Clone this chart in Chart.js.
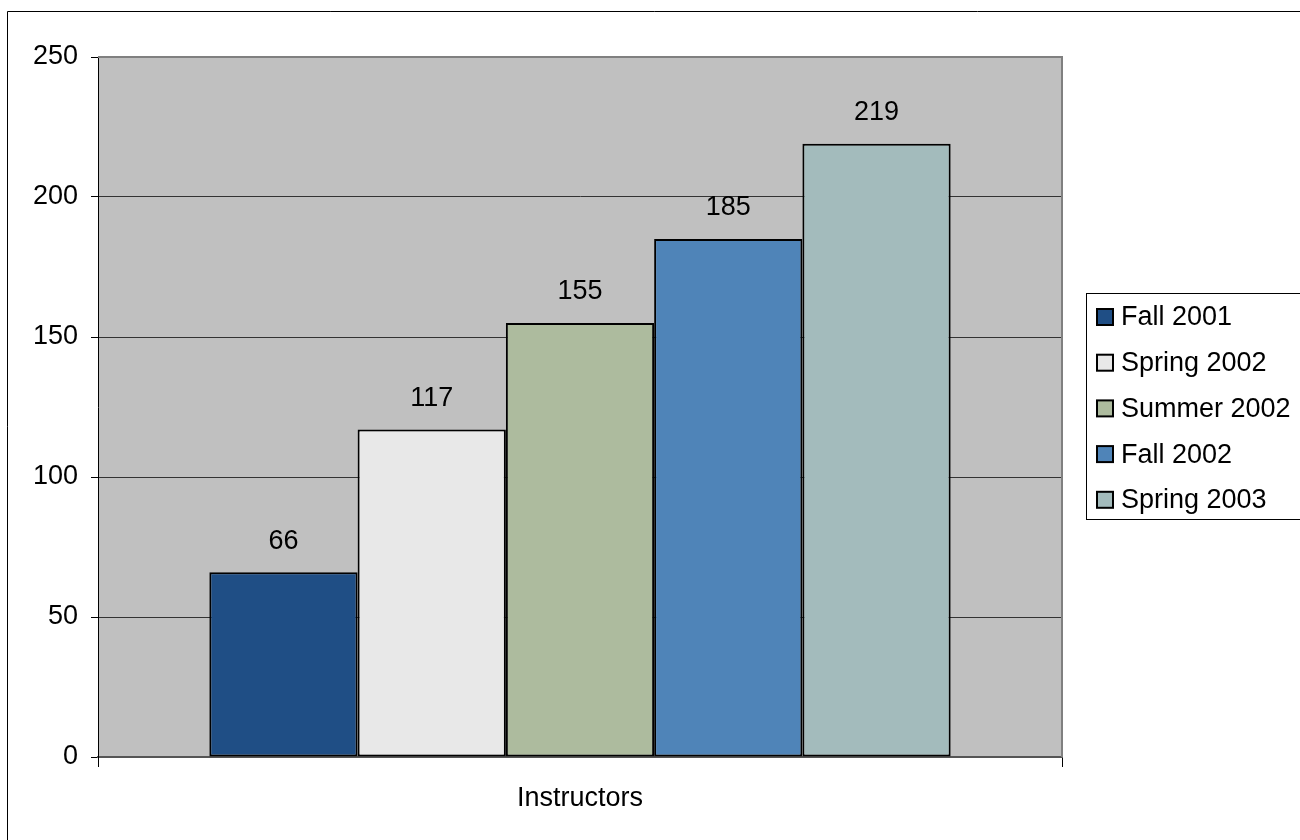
<!DOCTYPE html>
<html>
<head>
<meta charset="utf-8">
<script src="https://cdn.jsdelivr.net/npm/chart.js@4/dist/chart.umd.min.js"></script>
<style>
  html, body { margin: 0; padding: 0; background: #fff; }
  #wrap { width: 1300px; height: 840px; }
</style>
</head>
<body>
<div id="wrap"><canvas id="chart" width="1300" height="840"></canvas></div>
<script>
const categories = ["Instructors"];
const seriesNames = ["Fall 2001", "Spring 2002", "Summer 2002", "Fall 2002", "Spring 2003"];
const seriesValues = [66, 117, 155, 185, 219];
const seriesColors = ["#1F4E85", "#E8E8E8", "#ADBB9E", "#4F84B8", "#A3BBBC"];
const yTicks = [0, 50, 100, 150, 200, 250];

const FONT = "'Liberation Sans', Arial, sans-serif";
const FONT_SIZE = 27;

// gray plot background, outer frame
const frame = {
  id: "frame",
  beforeDraw(chart) {
    const { ctx, chartArea: a } = chart;
    ctx.save();
    ctx.fillStyle = "#fff";
    ctx.fillRect(0, 0, chart.width, chart.height);
    ctx.strokeStyle = "#000";
    ctx.lineWidth = 1;
    ctx.beginPath();
    ctx.moveTo(7.5, chart.height + 2);
    ctx.lineTo(7.5, 11.5);
    ctx.lineTo(chart.width + 2, 11.5);
    ctx.stroke();
    ctx.fillStyle = "#C0C0C0";
    ctx.fillRect(a.left, a.top, a.right - a.left, a.bottom - a.top);
    ctx.restore();
  },
  afterDraw(chart) {
    const { ctx, chartArea: a } = chart;
    ctx.save();
    ctx.strokeStyle = "#808080";
    ctx.lineWidth = 2;
    ctx.beginPath();
    ctx.moveTo(a.left, a.top);
    ctx.lineTo(a.right, a.top);
    ctx.lineTo(a.right, a.bottom);
    ctx.stroke();
    ctx.restore();
  }
};

// value labels above the bars
const valueLabels = {
  id: "valueLabels",
  afterDatasetsDraw(chart) {
    const { ctx } = chart;
    ctx.save();
    ctx.font = FONT_SIZE + "px " + FONT;
    ctx.fillStyle = "#000";
    ctx.textAlign = "center";
    ctx.textBaseline = "middle";
    chart.data.datasets.forEach((ds, i) => {
      const bar = chart.getDatasetMeta(i).data[0];
      ctx.fillText(String(ds.data[0]), bar.x, bar.y - 31);
    });
    ctx.restore();
  }
};

// framed legend on the right
const boxLegend = {
  id: "boxLegend",
  afterDraw(chart) {
    const { ctx } = chart;
    const left = 1086, top = 293, bottom = 519;
    ctx.save();
    ctx.strokeStyle = "#000";
    ctx.lineWidth = 1;
    ctx.strokeRect(left + 0.5, top + 0.5, chart.width, bottom - top);
    ctx.font = FONT_SIZE + "px " + FONT;
    ctx.textBaseline = "middle";
    ctx.textAlign = "left";
    chart.data.datasets.forEach((ds, i) => {
      const cy = 317 + i * 45.7;
      ctx.fillStyle = ds.backgroundColor;
      ctx.fillRect(1097, cy - 8, 16, 16);
      ctx.lineWidth = 2;
      ctx.strokeRect(1097, cy - 8, 16, 16);
      ctx.fillStyle = "#000";
      ctx.fillText(ds.label, 1121, cy + 1);
    });
    ctx.restore();
  }
};

const config = {
  type: "bar",
  data: {
    labels: categories,
    datasets: seriesNames.map((name, i) => ({
      label: name,
      data: [seriesValues[i]],
      backgroundColor: seriesColors[i],
      borderColor: "#000",
      borderWidth: 2,
      borderSkipped: false,
      categoryPercentage: 0.769,
      barPercentage: 1.0
    }))
  },
  options: {
    responsive: false,
    animation: false,
    layout: { padding: { left: 0, top: 57, right: 238, bottom: 0 } },
    plugins: {
      legend: { display: false },
      tooltip: { enabled: false }
    },
    scales: {
      x: {
        offset: true,
        grid: {
          offset: true,
          drawOnChartArea: false,
          tickLength: 10,
          tickColor: "#000"
        },
        border: { color: "#555", width: 2 },
        ticks: {
          color: "#000",
          padding: 15,
          font: { family: FONT, size: FONT_SIZE }
        },
        afterFit(s) { s.height = 83; }
      },
      y: {
        min: 0,
        max: 250,
        afterBuildTicks(s) { s.ticks = yTicks.map(v => ({ value: v })); },
        grid: {
          color: "#333",
          lineWidth: 1,
          tickLength: 7,
          tickColor: "#000"
        },
        border: { color: "#000", width: 1 },
        ticks: {
          color: "#000",
          padding: 13,
          font: { family: FONT, size: FONT_SIZE }
        },
        afterFit(s) { s.width = 98; }
      }
    }
  },
  plugins: [frame, valueLabels, boxLegend]
};

new Chart(document.getElementById("chart").getContext("2d"), config);
</script>
</body>
</html>
